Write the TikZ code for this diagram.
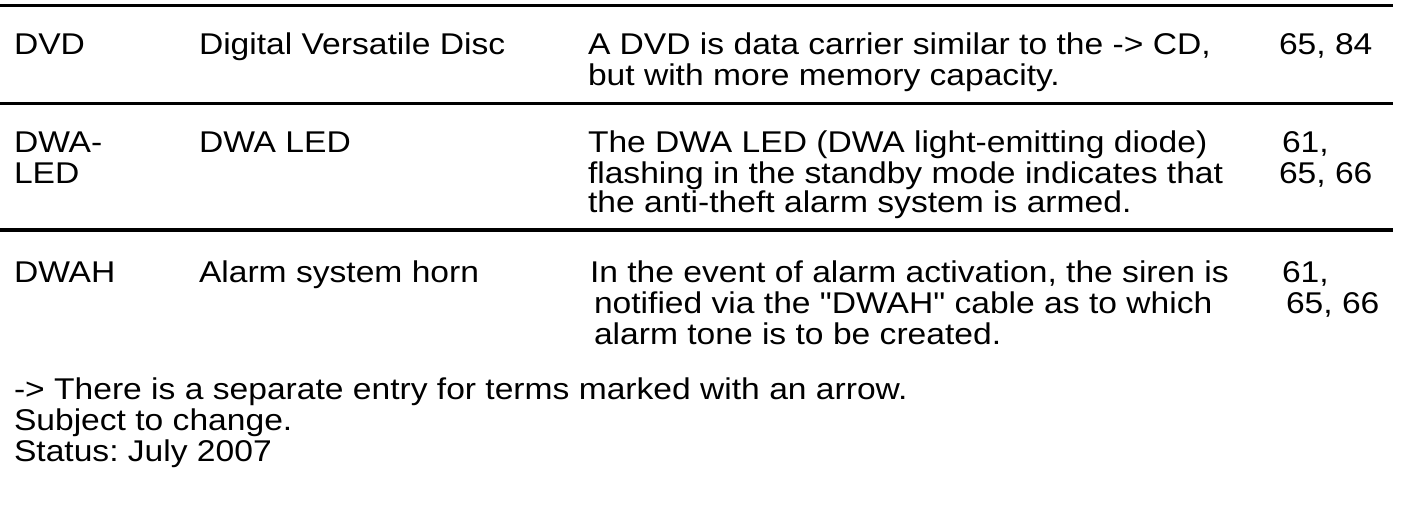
\documentclass[tikz,border=0pt]{standalone}
\usepackage{fontspec}
\setmainfont{Liberation Sans}[FakeStretch=1.12,Ligatures=TeXOff]
\begin{document}
\begin{tikzpicture}[x=1pt,y=-1pt,
  cell/.style={anchor=base west,inner sep=0pt,outer sep=0pt,font=\fontsize{30}{30}\selectfont\frenchspacing},
  rule/.style={line width=3.3pt}]
\useasboundingbox (0,0) rectangle (1408,516);
% rules
\coordinate (l1a) at (0,5.7);   \coordinate (l1b) at (1393,5.7);
\coordinate (l2a) at (0,103.5); \coordinate (l2b) at (1393,103.5);
\coordinate (l3a) at (0,230);   \coordinate (l3b) at (1393,230);
\draw[rule] (l1a) -- (l1b);
\draw[rule] (l2a) -- (l2b);
\draw[rule] (l3a) -- (l3b);
% row 1
\node[cell] (r1c1) at (14,55) {DVD};
\node[cell] (r1c2) at (199,55) {Digital Versatile Disc};
\node[cell] (r1c3a) at (588,55) {A DVD is data carrier similar to the -> CD,};
\node[cell] (r1c3b) at (588,86) {but with more memory capacity.};
\node[cell] (r1c4) at (1279,55) {65, 84};
% row 2
\node[cell] (r2c1a) at (14,153) {DWA-};
\node[cell] (r2c1b) at (14,183) {LED};
\node[cell] (r2c2) at (199,153) {DWA LED};
\node[cell] (r2c3a) at (588,153) {The DWA LED (DWA light-emitting diode)};
\node[cell] (r2c3b) at (588,183) {flashing in the standby mode indicates that};
\node[cell] (r2c3c) at (588,212) {the anti-theft alarm system is armed.};
\node[cell] (r2c4a) at (1282,153) {61,};
\node[cell] (r2c4b) at (1279,183) {65, 66};
% row 3
\node[cell] (r3c1) at (14,282) {DWAH};
\node[cell] (r3c2) at (199,282) {Alarm system horn};
\node[cell] (r3c3a) at (590,282) {In the event of alarm activation, the siren is};
\node[cell] (r3c3b) at (594,313) {notified via the "DWAH" cable as to which};
\node[cell] (r3c3c) at (594,344) {alarm tone is to be created.};
\node[cell] (r3c4a) at (1282,282) {61,};
\node[cell] (r3c4b) at (1286,313) {65, 66};
% footer
\node[cell] (f1) at (14,399) {-> There is a separate entry for terms marked with an arrow.};
\node[cell] (f2) at (14,430) {Subject to change.};
\node[cell] (f3) at (14,461) {Status: July 2007};
\end{tikzpicture}
\end{document}
